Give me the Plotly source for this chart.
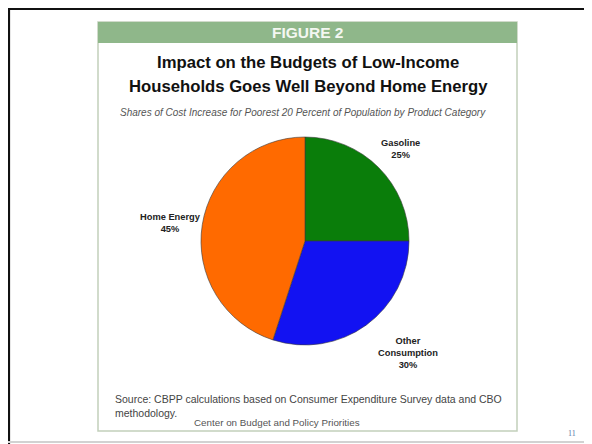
import plotly.graph_objects as go

# ---- data ----
categories = ["Gasoline", "Other Consumption", "Home Energy"]
shares = [25, 30, 45]
slice_colors = ["#0a7d0a", "#1212f2", "#ff6a00"]
label_lines = [["Gasoline"], ["Other", "Consumption"], ["Home Energy"]]

# the page body has an 8px margin, so the figure sits at (8, 8) in the window
OFF = 8
W, H = 592 - OFF, 444 - OFF


def px(x):
    return (x - OFF) / W


def py(y):
    return 1 - (y - OFF) / H


cx, cy, r = 305, 241, 104

fig = go.Figure()
fig.add_trace(go.Pie(
    labels=categories,
    values=shares,
    sort=False,
    direction="clockwise",
    rotation=0,
    marker=dict(colors=slice_colors, line=dict(color="#3a3a3a", width=0.6)),
    textinfo="none",
    hoverinfo="none",
    showlegend=False,
    domain=dict(x=[px(cx - r), px(cx + r)], y=[py(cy + r), py(cy - r)]),
))

shapes = []
# slide frame
shapes.append(dict(type="line", xref="paper", yref="paper", x0=px(8), x1=px(592), y0=py(9), y1=py(9),
                   line=dict(color="#111111", width=2.2)))
shapes.append(dict(type="line", xref="paper", yref="paper", x0=px(9), x1=px(9), y0=py(8), y1=py(444),
                   line=dict(color="#111111", width=2.2)))
shapes.append(dict(type="line", xref="paper", yref="paper", x0=px(8), x1=px(592), y0=py(442), y1=py(442),
                   line=dict(color="#d2d2d2", width=2)))
# figure box
shapes.append(dict(type="rect", xref="paper", yref="paper", x0=px(98), x1=px(517), y0=py(22), y1=py(431),
                   line=dict(color="#c2d0bb", width=1.5), fillcolor="rgba(0,0,0,0)"))
shapes.append(dict(type="rect", xref="paper", yref="paper", x0=px(98), x1=px(517), y0=py(22), y1=py(43),
                   line=dict(width=0), fillcolor="#8fb78a"))

ann = []


def text(x, y, s, size, color, family="Liberation Sans, Arial, sans-serif", xanchor="center"):
    ann.append(dict(x=px(x), y=py(y), xref="paper", yref="paper", text=s, showarrow=False,
                    xanchor=xanchor, yanchor="middle",
                    font=dict(size=size, color=color, family=family)))


text(307, 32, "<b>FIGURE 2</b>", 15.5, "#f4f7f2", family="Liberation Sans Narrow, Arial Narrow, Liberation Sans, sans-serif")
text(308, 62, "<b>Impact on the Budgets of Low-Income</b>", 16.7, "#111111")
text(308, 86, "<b>Households Goes Well Beyond Home Energy</b>", 16.7, "#111111")
text(303, 112, "<i>Shares of Cost Increase for Poorest 20 Percent of Population by Product Category</i>", 10, "#555555")

# slice labels
label_pos = [(400, 149), (408, 353), (170, 223)]
for lines, val, (lx, ly) in zip(label_lines, shares, label_pos):
    s = "<br>".join(lines + [f"{val}%"])
    ann.append(dict(x=px(lx), y=py(ly), xref="paper", yref="paper", text="<b>" + s + "</b>",
                    showarrow=False, xanchor="center", yanchor="middle", align="center",
                    font=dict(size=9.3, color="#222222", family="Liberation Sans, Arial, sans-serif")))

text(113, 399, "Source: CBPP calculations based on Consumer Expenditure Survey data and CBO", 10.5, "#444444", xanchor="left")
text(113, 413, "methodology.", 10.5, "#444444", xanchor="left")
text(277, 422, "Center on Budget and Policy Priorities", 9.8, "#555555")
text(572, 433, "11", 8, "#5a78a8", family="Liberation Serif, Times New Roman, serif")

fig.update_layout(
    width=W, height=H,
    margin=dict(l=0, r=0, t=0, b=0),
    paper_bgcolor="white", plot_bgcolor="white",
    shapes=shapes, annotations=ann,
)

fig.write_html("out.html")
